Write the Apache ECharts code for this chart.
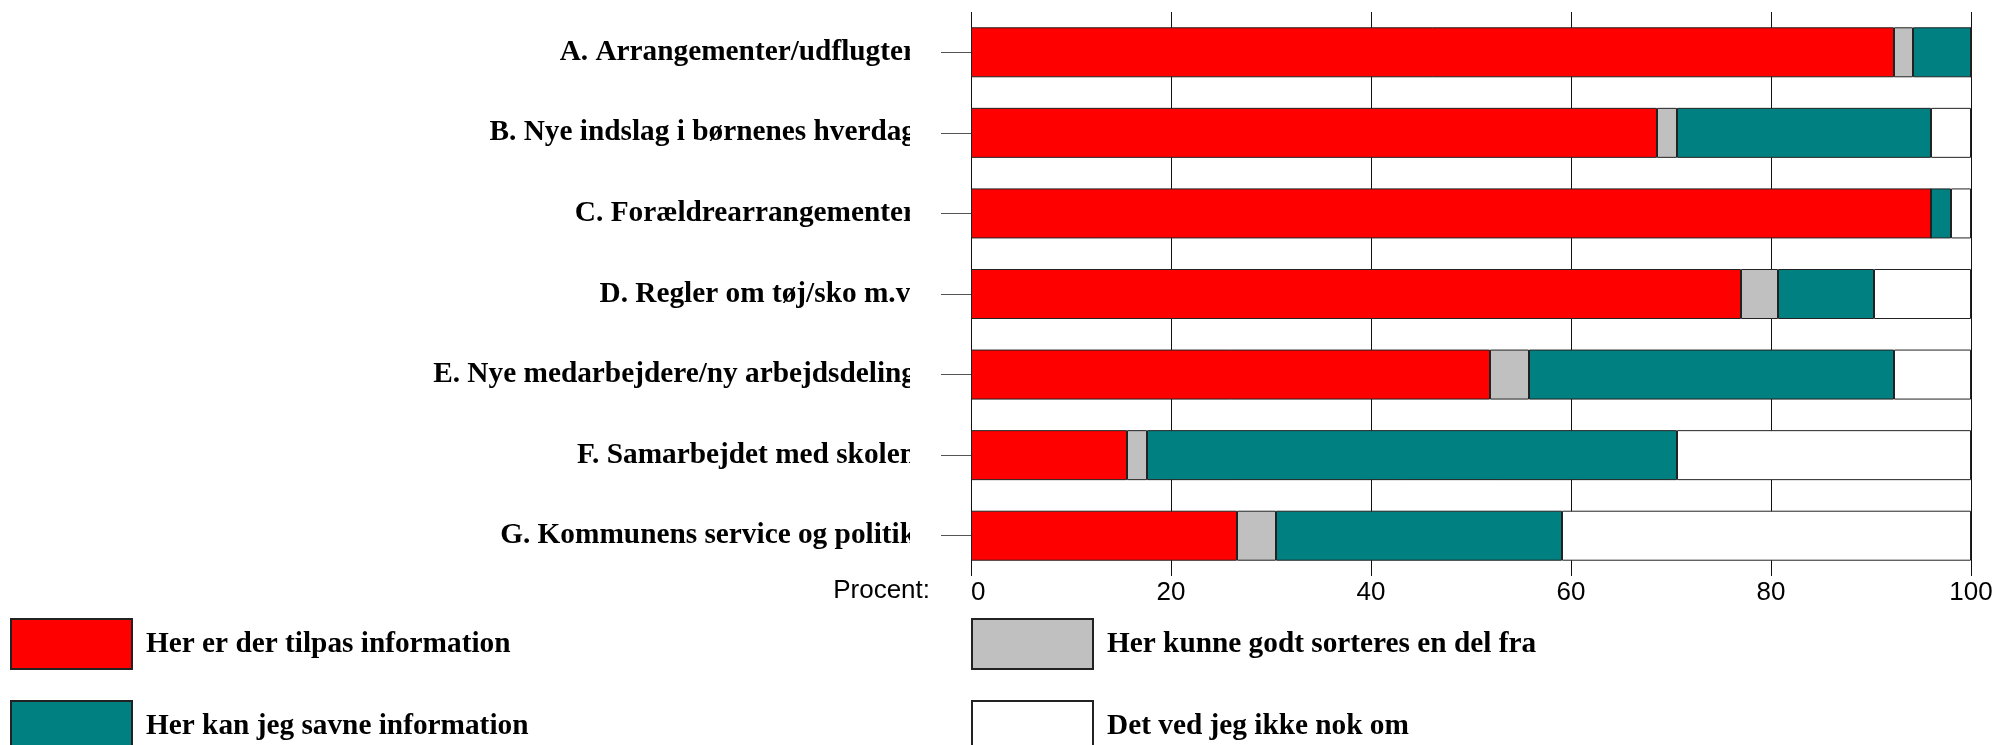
<!DOCTYPE html>
<html>
<head>
<meta charset="utf-8">
<title>Information</title>
<script src="https://cdn.jsdelivr.net/npm/echarts@6/dist/echarts.min.js"></script>
<style>
  html, body { margin: 0; padding: 0; background: #fff; }
  #chart { width: 1999px; height: 745px; }
</style>
</head>
<body>
<div id="chart"></div>
<script>
// spørgsmål (top til bund)
const categories = [
  'A. Arrangementer/udflugter',
  'B. Nye indslag i børnenes hverdag',
  'C. Forældrearrangementer',
  'D. Regler om tøj/sko m.v.',
  'E. Nye medarbejdere/ny arbejdsdeling',
  'F. Samarbejdet med skolen',
  'G. Kommunens service og politik'
]

// procent pr. svarkategori
const tilpas = [92.3, 68.6, 96.0, 77.0, 51.9, 15.6, 26.6]
const sorteres = [1.9, 2.0, 0, 3.7, 3.9, 2.0, 3.9]
const savne = [5.8, 25.4, 2.0, 9.6, 36.5, 53.0, 28.6]
const vedIkke = [0, 4.0, 2.0, 9.7, 7.7, 29.4, 40.9]

const xTicks = [0, 20, 40, 60, 80, 100]

const serif = '"Liberation Serif", "Times New Roman", serif'
const sans = '"Liberation Sans", Arial, sans-serif'

function bar(name, data, color) {
  return {
    name: name,
    type: 'bar',
    stack: 'total',
    barWidth: 50,
    data: data,
    itemStyle: {
      color: color,
      borderColor: '#222',
      borderWidth: 1
    },
    emphasis: { disabled: true }
  }
}

function legendBlock(items, left) {
  return {
    data: items,
    orient: 'vertical',
    left: left,
    top: 618,
    height: 160, // keep both items in one column (second one runs off the page)
    padding: 0,
    itemGap: 30,
    itemWidth: 121,
    itemHeight: 50,
    icon: 'rect',
    selectedMode: false,
    textStyle: {
      fontFamily: serif,
      fontWeight: 'bold',
      fontSize: 29.3,
      color: '#000',
      padding: [0, 0, 0, 9]
    }
  }
}

const chart = echarts.init(document.getElementById('chart'), null, { renderer: 'canvas' })

chart.setOption({
  animation: false,
  backgroundColor: '#fff',
  grid: {
    left: 971,
    right: 28,
    top: 12,
    height: 564,
    containLabel: false
  },
  xAxis: {
    type: 'value',
    min: xTicks[0],
    max: xTicks[xTicks.length - 1],
    interval: 20,
    name: 'Procent:',
    nameLocation: 'start',
    nameGap: 41,
    nameTextStyle: {
      fontFamily: sans,
      fontSize: 26,
      color: '#000',
      verticalAlign: 'top',
      lineHeight: 30
    },
    axisLine: { show: false },
    axisTick: { show: false },
    splitLine: {
      show: true,
      lineStyle: { color: '#111', width: 1 }
    },
    axisLabel: {
      fontFamily: sans,
      fontSize: 26,
      color: '#000',
      margin: 4,
      alignMinLabel: 'left'
    }
  },
  yAxis: {
    type: 'category',
    data: categories,
    inverse: true,
    axisLine: { show: false },
    axisTick: {
      show: true,
      length: 30,
      alignWithLabel: true,
      lineStyle: { color: '#555', width: 1 }
    },
    splitLine: { show: false },
    axisLabel: {
      fontFamily: serif,
      fontWeight: 'bold',
      fontSize: 29.3,
      color: '#000',
      margin: 55
    }
  },
  legend: [
    legendBlock(['Her er der tilpas information', 'Her kan jeg savne information'], 10),
    legendBlock(['Her kunne godt sorteres en del fra', 'Det ved jeg ikke nok om'], 971)
  ],
  // labels are cut off at the right edge in the original
  graphic: [{
    type: 'rect',
    z: 100,
    shape: { x: 910, y: 0, width: 30, height: 570 },
    style: { fill: '#fff' },
    silent: true
  }],
  series: [
    bar('Her er der tilpas information', tilpas, '#ff0000'),
    bar('Her kunne godt sorteres en del fra', sorteres, '#c0c0c0'),
    bar('Her kan jeg savne information', savne, '#008080'),
    bar('Det ved jeg ikke nok om', vedIkke, '#ffffff')
  ]
})
</script>
</body>
</html>
